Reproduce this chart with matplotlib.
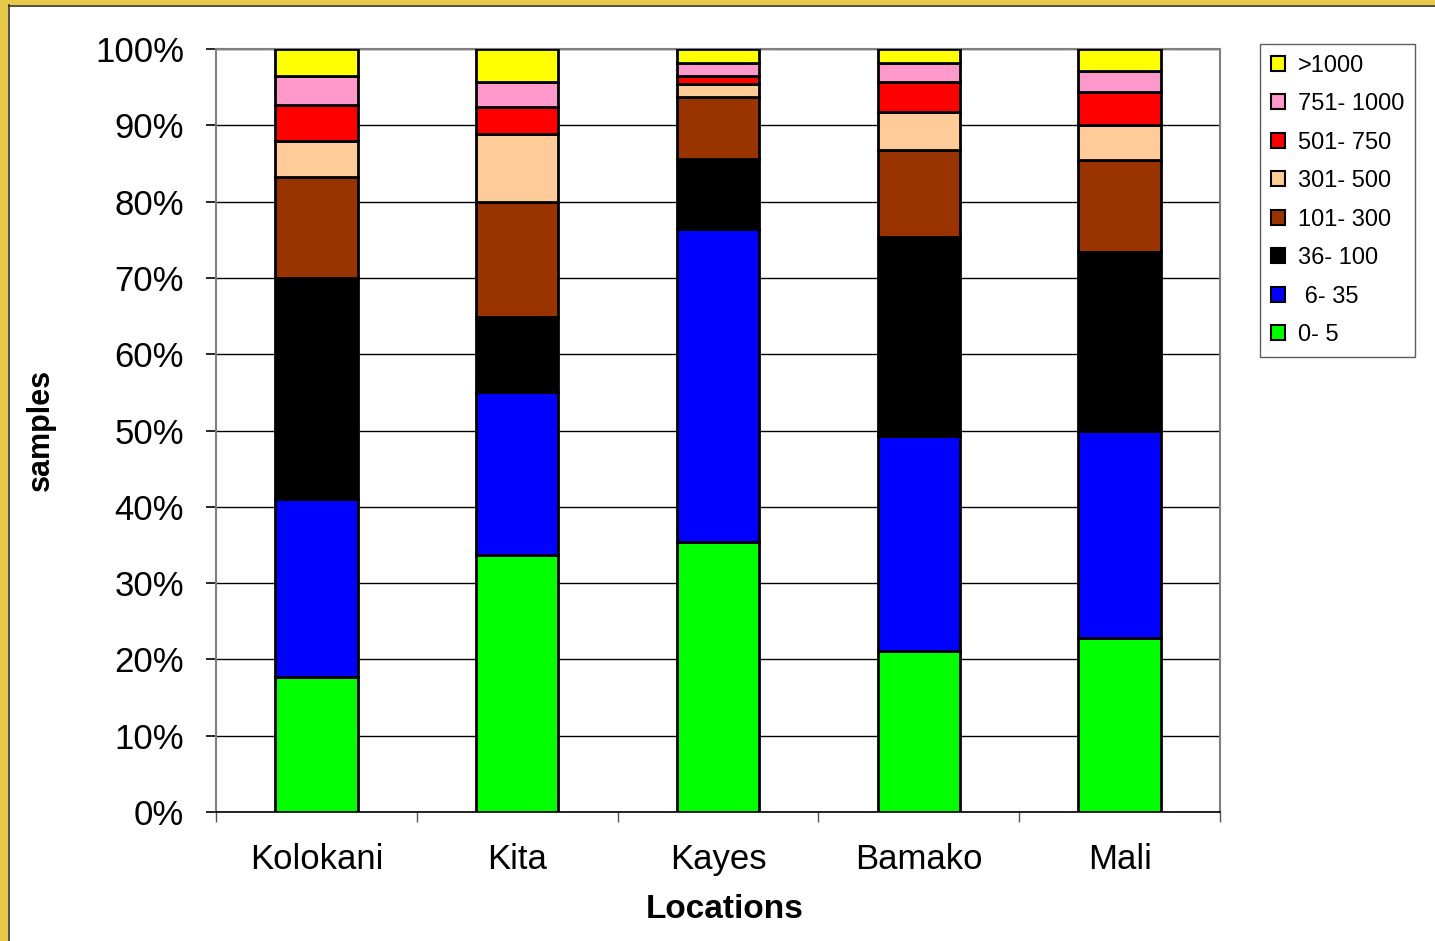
import numpy as np
import matplotlib

matplotlib.use("Agg")
import matplotlib.pyplot as plt
from matplotlib.patches import Patch, Rectangle

plt.rcParams["font.family"] = ["Liberation Sans", "DejaVu Sans"]

# Share of samples (%) per concentration class, bottom to top.
locations = ["Kolokani", "Kita", "Kayes", "Bamako", "Mali"]
classes = ["0- 5", " 6- 35", "36- 100", "101- 300", "301- 500",
           "501- 750", "751- 1000", ">1000"]
colors = ["#00FF00", "#0000FF", "#000000", "#993300", "#FFCC99",
          "#FF0000", "#FF99CC", "#FFFF00"]

share_0_5 = [17.7, 33.7, 35.4, 21.1, 22.8]
share_6_35 = [23.3, 21.3, 41.0, 28.2, 27.1]
share_36_100 = [29.0, 9.9, 9.2, 26.1, 23.5]
share_101_300 = [13.2, 15.1, 8.1, 11.4, 12.1]
share_301_500 = [4.7, 8.9, 1.7, 4.9, 4.5]
share_501_750 = [4.8, 3.5, 1.1, 4.0, 4.4]
share_751_1000 = [3.8, 3.3, 1.7, 2.4, 2.7]
share_over_1000 = [3.5, 4.3, 1.8, 1.9, 2.9]

series = [share_0_5, share_6_35, share_36_100, share_101_300,
          share_301_500, share_501_750, share_751_1000, share_over_1000]

W, H = 1435, 941
fig = plt.figure(figsize=(W / 100, H / 100), dpi=100)
fig.patch.set_facecolor("white")

# gold frame on the left and top edge
gold = "#E6C84B"
fig.patches.append(Rectangle((0, 0), 8 / W, 1, transform=fig.transFigure,
                             facecolor=gold, edgecolor="none", zorder=0))
fig.patches.append(Rectangle((0, 1 - 5 / H), 1, 5 / H, transform=fig.transFigure,
                             facecolor=gold, edgecolor="none", zorder=0))
fig.add_artist(plt.Line2D([8.5 / W, 8.5 / W], [0, 1 - 5 / H], color="#3a3320",
                          lw=1.2, transform=fig.transFigure))
fig.add_artist(plt.Line2D([8.5 / W, 1], [1 - 5.5 / H, 1 - 5.5 / H], color="#3a3320",
                          lw=1.2, transform=fig.transFigure))

ax = fig.add_axes([216 / W, 1 - 812 / H, (1220 - 216) / W, (812 - 49) / H])

data = np.array(series, dtype=float)
data = data / data.sum(axis=0) * 100
x = np.arange(len(locations))
bottom = np.zeros(len(locations))
for vals, col, lab in zip(data, colors, classes):
    ax.bar(x, vals, bottom=bottom, width=0.41, color=col, edgecolor="black",
           linewidth=2.0, label=lab, zorder=3)
    bottom += vals

ax.set_xlim(-0.5, len(locations) - 0.5)
ax.set_ylim(0, 100)
ax.set_yticks(np.arange(0, 101, 10))
ax.set_yticklabels([f"{v}%" for v in range(0, 101, 10)])
ax.yaxis.grid(True, color="black", linewidth=1.0, zorder=0)
ax.set_axisbelow(True)

ax.set_xticks(x)
ax.set_xticklabels(locations)
ax.set_xticks(np.arange(-0.5, len(locations)), minor=True)
ax.tick_params(axis="x", which="major", length=0, pad=22, labelsize=25)
ax.tick_params(axis="x", which="minor", length=7, width=1, color="#555555")
ax.tick_params(axis="y", length=7, width=1.2, pad=16, labelsize=25)

for side in ["top", "right", "left"]:
    ax.spines[side].set_color("#808080")
    ax.spines[side].set_linewidth(1.5)
ax.spines["bottom"].set_color("black")
ax.spines["bottom"].set_linewidth(1.2)

fig.text(725 / W, 1 - 918 / H, "Locations", ha="center", va="baseline",
         fontsize=24, fontweight="bold")
fig.text(41 / W, 1 - 430 / H, "samples", ha="center", va="center",
         rotation=90, fontsize=22, fontweight="bold")

handles = [Patch(facecolor=c, edgecolor="black", linewidth=1.5) for c in colors]
leg = fig.legend(handles[::-1], classes[::-1], loc="upper left",
                 bbox_to_anchor=(1260 / W, 1 - 44 / H), fontsize=17,
                 frameon=True, fancybox=False, handlelength=0.6,
                 handleheight=0.6, handletextpad=0.55, labelspacing=0.7,
                 borderpad=0.45, borderaxespad=0)
leg.get_frame().set_edgecolor("#333333")
leg.get_frame().set_linewidth(1.0)

fig.savefig("out.png", dpi=100)
